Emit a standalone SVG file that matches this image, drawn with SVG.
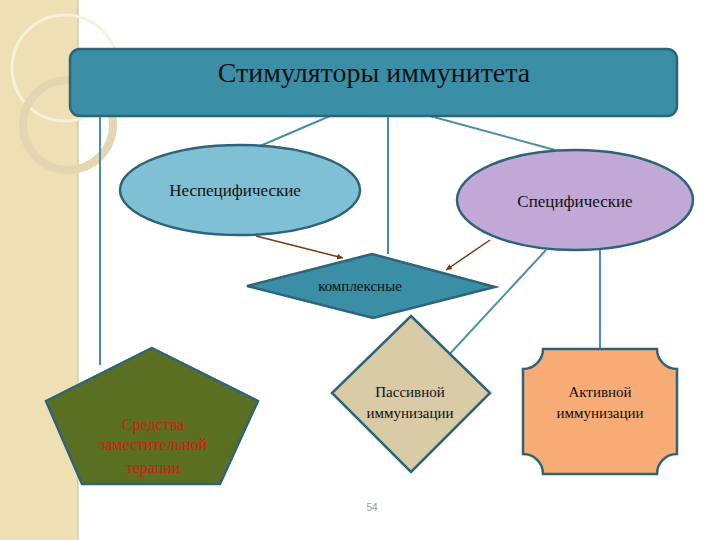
<svg xmlns="http://www.w3.org/2000/svg" width="720" height="540" viewBox="0 0 720 540">
<style>
.c{stroke:#4b8fa6;stroke-width:2;fill:none}
.a{stroke:#7a3a10;stroke-width:1.5;fill:none;marker-end:url(#ah)}
.t{font-family:"Liberation Serif",serif;fill:#111}
.n{stroke:#2e6478;stroke-width:2.5}
</style>
<defs><marker id="ah" markerWidth="8" markerHeight="8" refX="6" refY="3" orient="auto" markerUnits="userSpaceOnUse"><path d="M0,0L6,3L0,6z" fill="#7a3a10"/></marker></defs>
<rect x="0" y="0" width="78" height="540" fill="#eedfb4"/>
<line x1="78" y1="0" x2="78" y2="540" stroke="#cbb98a" stroke-width="1"/>
<circle cx="65" cy="68" r="53" fill="none" stroke="#f8f0dc" stroke-width="3"/>
<circle cx="68" cy="125" r="45" fill="none" stroke="#e4d6b0" stroke-width="8"/>
<g id="connectors">
<line class="c" x1="100" y1="116" x2="100" y2="365"/>
<line class="c" x1="330" y1="116" x2="260" y2="146"/>
<line class="c" x1="388" y1="116" x2="388" y2="254"/>
<line class="c" x1="430" y1="116" x2="555" y2="150"/>
<line class="c" x1="546" y1="250" x2="446" y2="358"/>
<line class="c" x1="600" y1="250" x2="600" y2="349"/>
<line class="a" x1="256" y1="236" x2="343" y2="258"/>
<line class="a" x1="490" y1="240" x2="446" y2="270"/>
</g>
<g id="top"><rect class="n" x="70" y="49" width="607" height="67" rx="10" fill="#3a8fa6"/>
<text class="t" x="374" y="82" font-size="28" text-anchor="middle">Стимуляторы иммунитета</text></g>
<g id="nonspec"><ellipse class="n" cx="240" cy="190" rx="120" ry="45" fill="#7fc0d4"/>
<text class="t" x="235" y="196" font-size="17" text-anchor="middle">Неспецифические</text></g>
<g id="spec"><ellipse class="n" cx="575" cy="200" rx="118" ry="50" fill="#c1a8d6"/>
<text class="t" x="575" y="207" font-size="17" text-anchor="middle">Специфические</text></g>
<g id="complex"><polygon class="n" points="247,286 372,254 495,287 373,318" fill="#3a8fa6"/>
<text class="t" x="360" y="291" font-size="15" text-anchor="middle">комплексные</text></g>
<g id="passive"><polygon class="n" points="411,316 490,393 411,472 332,393" fill="#d8cba6"/>
<text class="t" x="410" y="397" font-size="15" text-anchor="middle">Пассивной</text>
<text class="t" x="410" y="418" font-size="15" text-anchor="middle">иммунизации</text></g>
<g id="active"><path class="n" d="M543,349 H657 A20,20 0 0 0 677,369 V454 A20,20 0 0 0 657,474 H543 A20,20 0 0 0 523,454 V369 A20,20 0 0 0 543,349 Z" fill="#f7ab75"/>
<text class="t" x="600" y="397" font-size="15" text-anchor="middle">Активной</text>
<text class="t" x="600" y="418" font-size="15" text-anchor="middle">иммунизации</text></g>
<g id="subst"><polygon class="n" points="152,348 258,401 220,484 82,484 46,401" fill="#5b6f22"/>
<text x="153" y="430" font-size="16" text-anchor="middle" font-family="Liberation Serif,serif" fill="#d11a1a">Средства</text>
<text x="153" y="450" font-size="16" text-anchor="middle" font-family="Liberation Serif,serif" fill="#d11a1a">заместительной</text>
<text x="153" y="473" font-size="16" text-anchor="middle" font-family="Liberation Serif,serif" fill="#d11a1a">терапии</text></g>
<text x="372" y="511" font-size="10" text-anchor="middle" font-family="Liberation Sans,sans-serif" fill="#999">54</text>
</svg>
